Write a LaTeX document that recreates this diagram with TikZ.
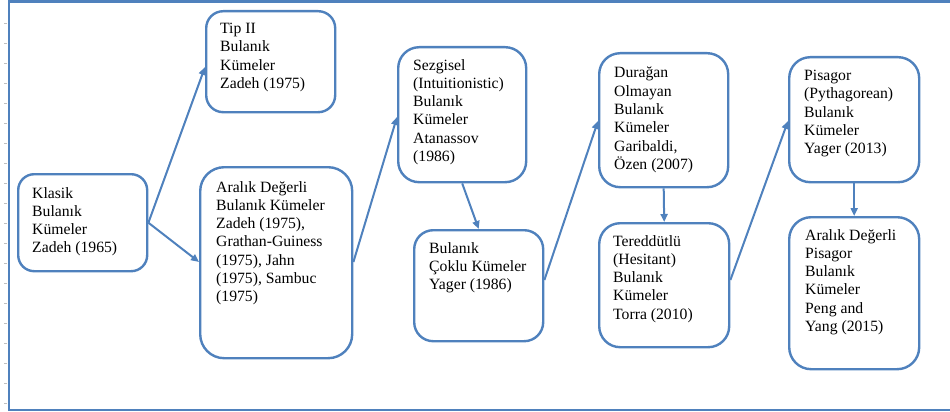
\documentclass[tikz,border=0pt]{standalone}
\usepackage{fontspec}
\setmainfont{Liberation Serif}
\usetikzlibrary{arrows.meta}
\definecolor{frameblue}{RGB}{79,129,189}
\tikzset{
  box/.style={draw=frameblue, line width=2.4pt, anchor=north west, inner sep=0pt, fill=white},
  txt/.style={anchor=north west, inner sep=0pt, align=left, text=black,
    font=\fontsize{15.7pt}{18.3pt}\selectfont},
  link/.style={draw=frameblue, line width=2pt, -{Triangle[length=8pt,width=7pt]}},
  frame/.style={draw=frameblue, line width=2.4pt},
  tick/.style={draw=black!25, line width=0.6pt}
}
\begin{document}
\begin{tikzpicture}[x=1pt, y=-1pt]
\useasboundingbox (0,0) rectangle (950,412);

% ruler ticks along the left margin
\foreach \t in {23,43,...,403} \draw[tick] (4,\t) -- (7,\t);

% outer frame, open on the right
\draw[frame] (952,1.5) -- (9,1.5) -- (9,410) -- (952,410);

% boxes
\node[box, rounded corners=16pt, minimum width=129pt, minimum height=97pt]  (klasik) at (17,173) {};
\node[box, rounded corners=17pt, minimum width=129pt, minimum height=101pt] (tip)    at (205,10) {};
\node[box, rounded corners=24pt, minimum width=152pt, minimum height=191pt] (aralik) at (199,166) {};
\node[box, rounded corners=21pt, minimum width=128pt, minimum height=135pt] (sez)    at (397,46) {};
\node[box, rounded corners=19pt, minimum width=129pt, minimum height=111pt] (coklu)  at (413,229) {};
\node[box, rounded corners=21pt, minimum width=129pt, minimum height=134pt] (dur)    at (598,52) {};
\node[box, rounded corners=21pt, minimum width=130pt, minimum height=124pt] (ter)    at (598,222) {};
\node[box, rounded corners=21pt, minimum width=130pt, minimum height=125pt] (pis)    at (788,56) {};
\node[box, rounded corners=22pt, minimum width=130pt, minimum height=152pt] (apis)   at (788,216) {};

% box texts
\node[txt] (klasikT) at ([shift={(15,14)}]klasik.north west) {Klasik\\Bulanık\\Kümeler\\Zadeh (1965)};
\node[txt] (tipT)    at ([shift={(15,13)}]tip.north west) {Tip II\\Bulanık\\Kümeler\\Zadeh (1975)};
\node[txt] (aralikT) at ([shift={(17,15)}]aralik.north west) {Aralık Değerli\\Bulanık Kümeler\\Zadeh (1975),\\Grathan-Guiness\\(1975), Jahn\\(1975), Sambuc\\(1975)};
\node[txt] (sezT)    at ([shift={(16,13)}]sez.north west) {Sezgisel\\(Intuitionistic)\\Bulanık\\Kümeler\\Atanassov\\(1986)};
\node[txt] (cokluT)  at ([shift={(16,13)}]coklu.north west) {Bulanık\\Çoklu Kümeler\\Yager (1986)};
\node[txt] (durT)    at ([shift={(16,15)}]dur.north west) {Durağan\\Olmayan\\Bulanık\\Kümeler\\Garibaldi,\\Özen (2007)};
\node[txt] (terT)    at ([shift={(15,13)}]ter.north west) {Tereddütlü\\(Hesitant)\\Bulanık\\Kümeler\\Torra (2010)};
\node[txt] (pisT)    at ([shift={(16,14)}]pis.north west) {Pisagor\\(Pythagorean)\\Bulanık\\Kümeler\\Yager (2013)};
\node[txt] (apisT)   at ([shift={(17,13)}]apis.north west) {Aralık Değerli\\Pisagor\\Bulanık\\Kümeler\\Peng and\\Yang (2015)};

% connectors
\draw[link] (klasik.east) -- (tip.west |- 0,67);
\draw[link] (klasik.east) -- (aralik.west |- 0,262);
\draw[link] (aralik.east |- 0,262) -- (sez.west |- 0,117);
\draw[link] (sez.south) -- (coklu.north);
\draw[link] (coklu.east |- 0,280) -- (dur.west |- 0,121);
\draw[link] (dur.south) -- (ter.north);
\draw[link] (ter.east |- 0,280) -- (pis.west |- 0,121);
\draw[link] (pis.south) -- (apis.north);
\end{tikzpicture}
\end{document}
